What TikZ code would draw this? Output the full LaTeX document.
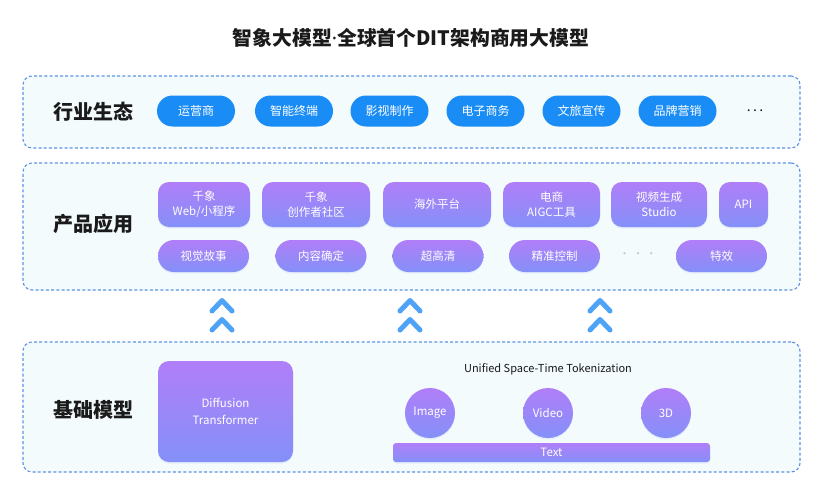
\documentclass[tikz,border=0pt]{standalone}
\usepackage{fontspec}
\setmainfont{Noto Sans CJK SC}
\newfontfamily\latinsans{Noto Sans}
\usetikzlibrary{shadows}
\definecolor{pillblue}{HTML}{1A8CF5}
\definecolor{ptop}{HTML}{B07EF8}
\definecolor{pbot}{HTML}{8490F8}
\definecolor{panelfill}{HTML}{F3FBFC}
\definecolor{panelline}{HTML}{5E92E8}
\definecolor{chev}{HTML}{4FA3F6}
\definecolor{darktext}{HTML}{1A1A1A}
\begin{document}
\begin{tikzpicture}[x=1pt,y=-1pt,
  panel/.style={draw=panelline, fill=panelfill, dash pattern=on 3pt off 2.2pt, line width=1.1pt, rounded corners=9pt, inner sep=0pt},
  rowlabel/.style={font=\fontsize{20}{22}\selectfont\bfseries, text=darktext},
  bluepill/.style={fill=pillblue, rounded corners=15.5pt, minimum width=78pt, minimum height=31pt, inner sep=0pt, text=white, font=\fontsize{12}{14}\selectfont},
  pbox/.style={top color=ptop, bottom color=pbot, draw=none, inner sep=0pt, text=white, align=center, font=\fontsize{11.5}{15}\selectfont,
     drop shadow={shadow xshift=0pt, shadow yshift=-1.5pt, opacity=0.12, fill=pbot}},
  toppill/.style={pbox, rounded corners=11pt, minimum height=45pt},
  botpill/.style={pbox, rounded corners=16pt, minimum height=32pt, minimum width=91pt},
  circ/.style={pbox, circle, minimum size=50pt},
  chevron/.style={draw=chev, line width=5pt, line cap=round, line join=round}
]
\useasboundingbox (0,0) rectangle (825,491);
\fill[white] (0,0) rectangle (825,491);

\node[font=\fontsize{19.8}{22}\selectfont\bfseries, text=darktext] (title) at (411,38) {智象大模型{\latinsans\bfseries ·}全球首个DIT架构商用大模型};

% panels
\node[panel, minimum width=777pt, minimum height=72pt] (p1) at (411.5,112) {};
\node[panel, minimum width=777pt, minimum height=127pt] (p2) at (411.5,226.5) {};
\node[panel, minimum width=777pt, minimum height=130pt] (p3) at (411.5,407) {};

% row 1
\node[rowlabel] (l1) at (93,112) {行业生态};
\node[bluepill] (b1) at (196,111) {运营商};
\node[bluepill] (b2) at (294,111) {智能终端};
\node[bluepill] (b3) at (389.5,111) {影视制作};
\node[bluepill] (b4) at (485.5,111) {电子商务};
\node[bluepill] (b5) at (581.5,111) {文旅宣传};
\node[bluepill] (b6) at (677.5,111) {品牌营销};
\node[text=darktext, font=\fontsize{14}{14}\selectfont] (bdots) at (755,111) {.\,.\,.};

% row 2
\node[rowlabel] (l2) at (93,224) {产品应用};
\node[toppill, minimum width=92pt] (a1) at (204,204.5) {千象\\Web/小程序};
\node[toppill, minimum width=108pt] (a2) at (316,204.5) {千象\\创作者社区};
\node[toppill, minimum width=108pt] (a3) at (437,204.5) {海外平台};
\node[toppill, minimum width=97pt] (a4) at (551.5,204.5) {电商\\AIGC工具};
\node[toppill, minimum width=96pt] (a5) at (659,204.5) {视频生成\\Studio};
\node[toppill, minimum width=49pt] (a6) at (743.5,204.5) {API};
\node[botpill] (c1) at (203.5,256) {视觉故事};
\node[botpill] (c2) at (321,256) {内容确定};
\node[botpill] (c3) at (438,256) {超高清};
\node[botpill] (c4) at (554.5,256) {精准控制};
\node[text=black!25, font=\fontsize{10}{10}\selectfont] (cdots) at (638,255) {·\,\,·\,\,·};
\node[botpill] (c5) at (721.5,256) {特效};

% chevrons
\foreach \cx in {222,410,600}{
  \draw[chevron] (\cx-10,311) -- (\cx,300.5) -- (\cx+10,311);
  \draw[chevron] (\cx-10,330) -- (\cx,319.5) -- (\cx+10,330);
}

% row 3
\node[rowlabel] (l3) at (93,410) {基础模型};
\node[pbox, rounded corners=11pt, minimum width=135pt, minimum height=101pt, font=\fontsize{11.5}{17}\selectfont] (dt) at (225.5,411.5) {Diffusion\\Transformer};
\node[text=darktext, font=\fontsize{11}{13}\selectfont] (ust) at (548,369) {Unified Space-Time Tokenization};
\node[circ] (img) at (430,413) {Image};
\node[circ] (vid) at (548,413) {Video};
\node[circ] (thd) at (666,413) {3D};
\node[pbox, rounded corners=3pt, minimum width=317pt, minimum height=19pt] (txt) at (551.5,452.5) {Text};
\end{tikzpicture}
\end{document}
